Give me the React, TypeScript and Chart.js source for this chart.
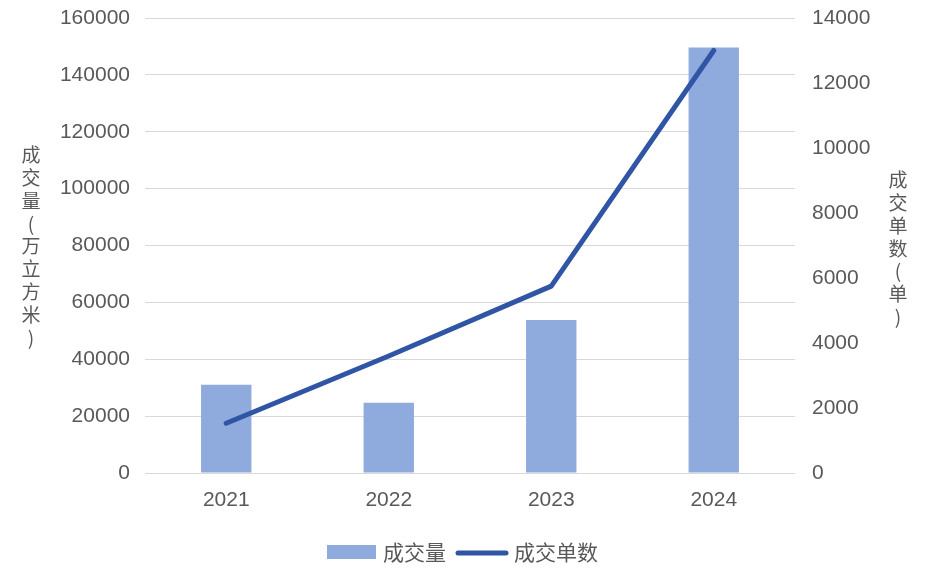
import React, { useEffect, useRef } from 'react';
import { Chart, registerables } from 'chart.js';

Chart.register(...registerables);

// ---- data ----
const years = ['2021', '2022', '2023', '2024'];
const volume = [31000, 24700, 53800, 149600]; // 成交量（万立方米）
const deals = [1530, 3600, 5750, 13000]; // 成交单数（单）
const leftMax = 160000;
const leftStep = 20000;
const rightMax = 14000;
const rightStep = 2000;
const volumeLabel = '成交量';
const dealsLabel = '成交单数';
const leftTitleChars = ['成', '交', '量', '(', '万', '立', '方', '米', ')'];
const rightTitleChars = ['成', '交', '单', '数', '(', '单', ')'];

const BAR_COLOR = '#8FAADC';
const LINE_COLOR = '#2F55A4';
const TEXT_COLOR = '#595959';
const GRID_COLOR = '#D9D9D9';
const NUM_FONT = "'Liberation Sans', Arial, sans-serif";
const CJK_FONT = "'Noto Sans CJK SC', 'Noto Sans', sans-serif";

const decorPlugin = {
  id: 'decor',
  afterDraw(chart: any) {
    const ctx = chart.ctx as CanvasRenderingContext2D;
    ctx.save();
    ctx.fillStyle = TEXT_COLOR;
    ctx.textAlign = 'center';
    ctx.textBaseline = 'middle';
    ctx.font = `19px ${CJK_FONT}`;
    const pitch = 22.8;
    leftTitleChars.forEach((c, i) => ctx.fillText(c, 31, 155 + i * pitch));
    rightTitleChars.forEach((c, i) => ctx.fillText(c, 898, 180 + i * pitch));

    // legend
    const ly = 552;
    ctx.fillStyle = BAR_COLOR;
    ctx.fillRect(327, 545, 49, 14);
    ctx.fillStyle = TEXT_COLOR;
    ctx.textAlign = 'left';
    ctx.font = `21px ${CJK_FONT}`;
    ctx.fillText(volumeLabel, 383, ly);
    ctx.strokeStyle = LINE_COLOR;
    ctx.lineWidth = 5;
    ctx.lineCap = 'round';
    ctx.beginPath();
    ctx.moveTo(458, ly + 1);
    ctx.lineTo(506, ly + 1);
    ctx.stroke();
    ctx.fillText(dealsLabel, 514, ly);
    ctx.restore();
  },
};

const plain = (v: any) => String(v);

export default function App() {
  const ref = useRef<HTMLCanvasElement | null>(null);
  useEffect(() => {
    document.body.style.margin = '0';
    const canvas = ref.current;
    if (!canvas) return;
    const chart = new Chart(canvas, {
      type: 'bar',
      data: {
        labels: years,
        datasets: [
          {
            type: 'line',
            label: dealsLabel,
            data: deals,
            yAxisID: 'y1',
            borderColor: LINE_COLOR,
            backgroundColor: LINE_COLOR,
            borderWidth: 5,
            borderCapStyle: 'round',
            borderJoinStyle: 'round',
            pointRadius: 0,
            tension: 0,
            order: 0,
          } as any,
          {
            type: 'bar',
            label: volumeLabel,
            data: volume,
            yAxisID: 'y',
            backgroundColor: BAR_COLOR,
            categoryPercentage: 1,
            barPercentage: 0.31,
            order: 1,
          },
        ],
      },
      options: {
        responsive: false,
        animation: false,
        layout: { padding: { top: 18, bottom: 69, left: 0, right: 0 } },
        plugins: { legend: { display: false }, tooltip: { enabled: false } },
        scales: {
          x: {
            grid: { display: false, drawTicks: false },
            border: { display: false },
            ticks: { color: TEXT_COLOR, font: { family: NUM_FONT, size: 21 }, padding: 15 },
            afterFit(scale: any) {
              scale.height = 40;
            },
          },
          y: {
            position: 'left',
            min: 0,
            max: leftMax,
            grid: { color: GRID_COLOR, lineWidth: 1, drawTicks: false },
            border: { display: false },
            ticks: {
              stepSize: leftStep,
              color: TEXT_COLOR,
              font: { family: NUM_FONT, size: 21 },
              padding: 15,
              callback: plain,
            },
            afterFit(scale: any) {
              scale.width = 145;
              scale.paddingTop = 0;
              scale.paddingBottom = 0;
            },
          },
          y1: {
            position: 'right',
            min: 0,
            max: rightMax,
            grid: { display: false, drawTicks: false },
            border: { display: false },
            ticks: {
              stepSize: rightStep,
              color: TEXT_COLOR,
              font: { family: NUM_FONT, size: 21 },
              padding: 17,
              callback: plain,
            },
            afterFit(scale: any) {
              scale.width = 137;
              scale.paddingTop = 0;
              scale.paddingBottom = 0;
            },
          },
        },
      },
      plugins: [decorPlugin],
    });
    return () => chart.destroy();
  }, []);
  return (
    <div style={{ width: 932, height: 582, position: 'relative', background: '#fff' }}>
      <canvas ref={ref} width={932} height={582} style={{ display: 'block' }} />
    </div>
  );
}
